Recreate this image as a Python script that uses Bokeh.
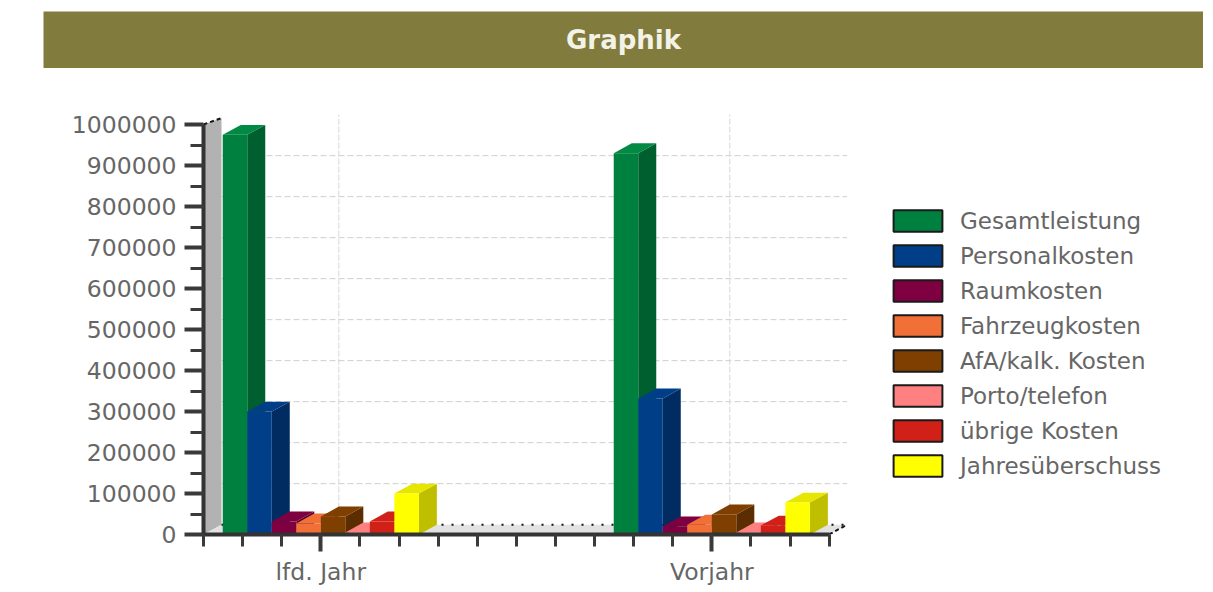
from bokeh.plotting import figure
from bokeh.embed import file_html
from bokeh.resources import INLINE
from bokeh.layouts import column
from bokeh.models import (Legend, LegendItem, FixedTicker, ColumnDataSource)
from bokeh.core.properties import value

title_text = "Graphik"
categories = ["lfd. Jahr", "Vorjahr"]
series_names = ["Gesamtleistung", "Personalkosten", "Raumkosten", "Fahrzeugkosten",
                "AfA/kalk. Kosten", "Porto/telefon", "übrige Kosten", "Jahresüberschuss"]
gesamtleistung = [975000, 930000]
personalkosten = [300000, 332000]
raumkosten = [32000, 20000]
fahrzeugkosten = [27000, 24000]
afa_kosten = [44000, 49000]
porto_telefon = [5000, 5000]
uebrige_kosten = [32000, 22000]
jahresueberschuss = [100000, 78000]
series_values = [gesamtleistung, personalkosten, raumkosten, fahrzeugkosten,
                 afa_kosten, porto_telefon, uebrige_kosten, jahresueberschuss]
y_ticks = [0, 100000, 200000, 300000, 400000, 500000, 600000, 700000, 800000, 900000, 1000000]
front_colors = ["#00803F", "#003F87", "#7E0040", "#F07038", "#7F3F00", "#FF8080", "#D02018", "#FFFF00"]
side_colors = ["#005F2E", "#002C62", "#5A002D", "#B85228", "#5C2D00", "#C06060", "#9A1610", "#BFBF00"]
top_colors = ["#008A44", "#003F87", "#7E0040", "#F07038", "#7F3F00", "#FF8080", "#D02018", "#E6E600"]

FONT = "DejaVu Sans"
BAR_W = 0.0627
DX = 18 / 391
DY = 24000
X_LEFT = -0.3
X_AXIS_END = 1.3

# header band
h = figure(width=1160, height=57, frame_width=1160, frame_height=57,
           output_backend="svg", toolbar_location=None, frame_align=False,
           x_range=(0, 1), y_range=(0, 1), min_border=0, margin=(11, 0, 0, 43),
           x_axis_location=None, y_axis_location=None)
h.outline_line_color = None
h.grid.visible = False
h.background_fill_color = "#817B3D"
h.border_fill_color = "#817B3D"
h.text(x=[0.5], y=[0.5], text=[title_text], text_font=value(FONT), text_font_style="bold",
       text_font_size="26px", text_color="#F2F2E6", text_align="center", text_baseline="middle")

p = figure(width=1205, height=516, output_backend="svg", toolbar_location=None,
           frame_width=647, frame_height=424, frame_align=False,
           x_range=(X_LEFT, X_LEFT + 647 / 391), y_range=(0, 424 / 410 * 1000000),
           min_border_left=203, min_border_right=355, min_border_top=42, min_border_bottom=50,
           margin=0)
p.outline_line_color = None
p.grid.visible = False
p.background_fill_color = "#FFFFFF"
p.border_fill_color = "#FFFFFF"

# back wall and floor
p.patch([X_LEFT, X_LEFT + DX, X_LEFT + DX, X_LEFT], [0, DY, y_ticks[-1] + DY * 0.65, y_ticks[-1]],
        fill_color="#B2B2B2", line_color=None)
p.patch([X_LEFT, X_AXIS_END, X_AXIS_END + DX, X_LEFT + DX], [0, 0, DY, DY], fill_color="#E2E2E2", line_color=None)
p.line([X_LEFT + DX, X_AXIS_END + DX], [DY, DY], line_color="#111111", line_width=2, line_dash="2 8")
p.line([X_AXIS_END, X_AXIS_END + DX], [0, DY], line_color="#111111", line_width=2, line_dash="4 3")
p.line([X_LEFT, X_LEFT + DX], [y_ticks[-1], y_ticks[-1] + DY * 0.65], line_color="#111111", line_width=2, line_dash="4 3")

# gridlines on the back wall
for t in y_ticks[1:-1]:
    p.line([X_LEFT + DX, X_AXIS_END + DX], [t + DY, t + DY], line_color="#CFCFCF", line_width=1, line_dash="6 3")
for i in range(len(categories)):
    p.line([i + DX, i + DX], [DY, y_ticks[-1] + DY], line_color="#D6D6D6", line_width=1, line_dash="6 2")

# 3D bars
n = len(series_names)
for s, vals in enumerate(series_values):
    xs = [c + (s - (n - 1) / 2) * BAR_W for c in range(len(categories))]
    side_x, side_y, top_x, top_y = [], [], [], []
    for x, v in zip(xs, vals):
        r = x + BAR_W / 2
        l = x - BAR_W / 2
        side_x.append([r, r + DX, r + DX, r])
        side_y.append([0, DY, v + DY, v])
        top_x.append([l, l + DX, r + DX, r])
        top_y.append([v, v + DY, v + DY, v])
    p.patches(side_x, side_y, fill_color=side_colors[s], line_color=None)
    p.patches(top_x, top_y, fill_color=top_colors[s], line_color=None)
    p.vbar(x=xs, top=vals, bottom=0, width=BAR_W, fill_color=front_colors[s], line_color=None)

# axes
xa = p.xaxis[0]
xa.ticker = FixedTicker(ticks=[0, 1], minor_ticks=[round(-0.3 + 0.1 * k, 1) for k in range(17)])
xa.major_label_overrides = {0: categories[0], 1: categories[1]}
xa.bounds = (X_LEFT, X_AXIS_END)
xa.major_tick_in = 0
xa.major_tick_out = 17
xa.minor_tick_in = 0
xa.minor_tick_out = 12
xa.major_label_standoff = 6
ya = p.yaxis[0]
ya.ticker = FixedTicker(ticks=y_ticks, minor_ticks=[k * 50000 for k in range(21)])
ya.major_label_overrides = {t: str(t) for t in y_ticks}
ya.bounds = (0, y_ticks[-1])
ya.major_tick_in = 0
ya.major_tick_out = 19
ya.minor_tick_in = 0
ya.minor_tick_out = 13
ya.major_label_standoff = 8
for ax in (xa, ya):
    ax.axis_line_color = "#333333"
    ax.axis_line_width = 4
    ax.major_tick_line_color = "#3A3A3A"
    ax.major_tick_line_width = 4
    ax.minor_tick_line_color = "#3A3A3A"
    ax.minor_tick_line_width = 3
    ax.major_label_text_font = FONT
    ax.major_label_text_font_size = "23.5px"
    ax.major_label_text_color = "#666666"
    ax.major_label_text_font_style = "normal"

# legend
items = []
for s, name in enumerate(series_names):
    keyed = ColumnDataSource(data=dict(x=[float("nan")], top=[0]))
    r = p.vbar(x="x", top="top", bottom=0, width=BAR_W, source=keyed,
               fill_color=front_colors[s], line_color="#1A1A1A", line_width=2)
    items.append(LegendItem(label=name, renderers=[r]))
legend = Legend(items=items, location=(37, 55), padding=0, margin=0, spacing=8,
                glyph_width=61, glyph_height=27, label_standoff=12,
                label_text_font=FONT, label_text_font_size="23px", label_text_color="#666666",
                label_height=22, border_line_color=None, background_fill_alpha=0)
p.add_layout(legend, "right")

open("out.html", "w").write(file_html(column(h, p, spacing=0), INLINE))
